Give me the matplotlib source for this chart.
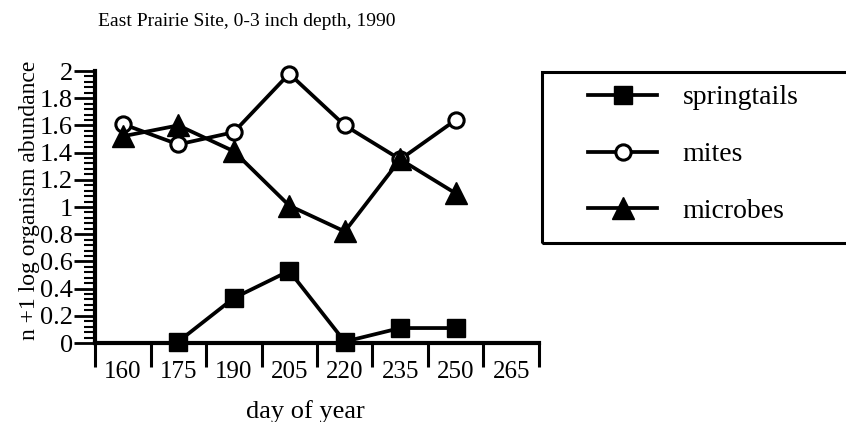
# East Prairie Site soil organism abundance, 1990

import numpy as np
import matplotlib
matplotlib.use("Agg")
import matplotlib.pyplot as plt
from matplotlib.patches import Rectangle
from matplotlib.ticker import FixedLocator, MultipleLocator

days = [160, 175, 190, 205, 220, 235, 250, 265]
springtail_days = [175, 190, 205, 220, 235, 250]
springtails = [0.01, 0.33, 0.53, 0.01, 0.11, 0.11]
mite_days = [160, 175, 190, 205, 220, 235, 250]
mites = [1.61, 1.46, 1.55, 1.98, 1.60, 1.35, 1.64]
microbe_days = [160, 175, 190, 205, 220, 235, 250]
microbes = [1.52, 1.60, 1.41, 1.01, 0.82, 1.35, 1.10]
ytick_vals = [0, 0.2, 0.4, 0.6, 0.8, 1, 1.2, 1.4, 1.6, 1.8, 2]
ytick_labels = ['0', '0.2', '0.4', '0.6', '0.8', '1', '1.2', '1.4', '1.6', '1.8', '2']

plt.rcParams['font.family'] = ['Liberation Serif', 'DejaVu Serif']

fig = plt.figure(figsize=(8.46, 4.22), dpi=100)
ax = fig.add_axes([95/846, 79/422, 444/846, 272/422])

lw = 2.7
ax.plot(springtail_days, springtails, color='black', lw=lw, marker='s', ms=12.5, label='springtails', clip_on=False, zorder=3)
ax.plot(mite_days, mites, color='black', lw=lw, marker='o', ms=11, mfc='white', mew=2.2, label='mites', clip_on=False, zorder=3)
ax.plot(microbe_days, microbes, color='black', lw=lw, marker='^', ms=16, label='microbes', clip_on=False, zorder=3)

# category style x axis: ticks on the boundaries, labels in the middle
step = 15
ax.set_xlim(days[0] - step/2, days[-1] + step/2)
ax.xaxis.set_major_locator(FixedLocator([d - step/2 for d in days] + [days[-1] + step/2]))
ax.xaxis.set_major_formatter(plt.NullFormatter())
ax.set_xticks(days, [str(d) for d in days], minor=True)
ax.tick_params(axis='x', which='major', direction='out', length=17, width=2.2)
ax.tick_params(axis='x', which='minor', length=0, pad=13, labelsize=18)

ax.set_ylim(0, 2)
ax.set_yticks(ytick_vals, ytick_labels)
ax.yaxis.set_minor_locator(MultipleLocator(0.04))
ax.tick_params(axis='y', which='major', direction='out', length=15, width=2, pad=1, labelsize=19)
ax.tick_params(axis='y', which='minor', direction='out', length=8, width=1.5)

for s in ['top', 'right']:
    ax.spines[s].set_visible(False)
ax.spines['left'].set_linewidth(3)
ax.spines['bottom'].set_linewidth(3)

ax.set_ylabel('n +1 log organism abundance', fontsize=17, labelpad=0, y=0.526)
ax.set_xlabel('day of year', fontsize=19, labelpad=12, x=(305 - 95)/444)

fig.text(247/846, 1 - 22/422, 'East Prairie Site, 0-3 inch depth, 1990', ha='center', va='center', fontsize=14)

# legend frame runs off the right edge
fig.patches.append(Rectangle((542/846, 1 - 243/422), 320/846, 171/422, transform=fig.transFigure,
                             fill=False, edgecolor='black', lw=2.2))
fig.legend(loc='upper left', bbox_to_anchor=(588/846, 1 - 85/422), frameon=False, borderaxespad=0,
           fontsize=20, handlelength=2.5, handletextpad=0.9, labelspacing=1.13, borderpad=0)

fig.savefig('out.png', dpi=100)
